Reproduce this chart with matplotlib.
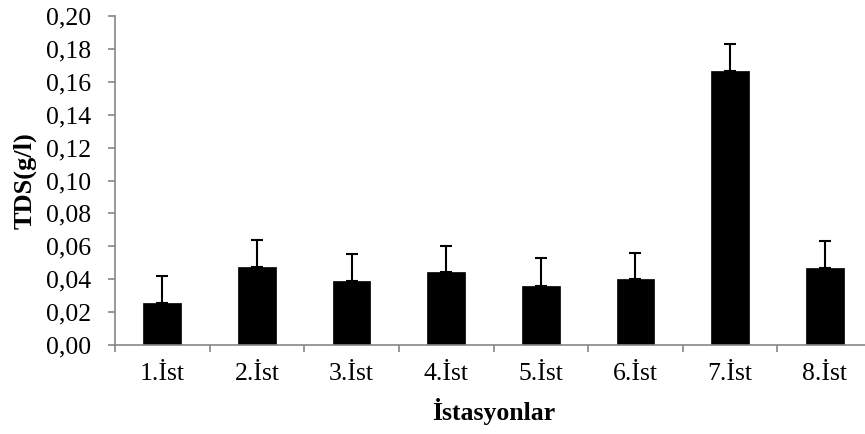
import matplotlib
matplotlib.use("Agg")
import matplotlib.pyplot as plt
import numpy as np

stations = ["1.İst", "2.İst", "3.İst", "4.İst", "5.İst", "6.İst", "7.İst", "8.İst"]
tds = [0.0257, 0.0474, 0.0389, 0.0444, 0.0361, 0.0399, 0.1664, 0.0468]
tds_err = [0.0163, 0.0166, 0.0164, 0.0160, 0.0166, 0.0160, 0.0164, 0.0164]
yticks = [0.00, 0.02, 0.04, 0.06, 0.08, 0.10, 0.12, 0.14, 0.16, 0.18, 0.20]


def main() -> None:
    plt.rcParams["font.family"] = ["Liberation Serif", "DejaVu Serif"]
    grey = "#868686"
    fs = 18.5

    fig = plt.figure(figsize=(8.65, 4.34), dpi=100)
    ax = fig.add_axes([115 / 865, 89 / 434, 757 / 865, 329 / 434])

    x = np.arange(len(stations))
    ax.bar(x, tds, width=0.4, color="black", edgecolor="black", linewidth=0.5, zorder=2)
    ax.errorbar(x, tds, yerr=[np.zeros(len(tds)), tds_err], fmt="none",
                ecolor="black", elinewidth=1.5, capsize=4, capthick=1.5, zorder=3)

    ax.set_xlim(-0.5, len(stations) - 0.5)
    ax.set_ylim(0, 0.20)
    ax.set_yticks(yticks)
    ax.set_yticklabels([f"{v:.2f}".replace(".", ",") for v in yticks], fontsize=fs)

    ax.set_xticks(x)
    ax.set_xticklabels(stations, fontsize=fs)
    ax.set_xticks(np.arange(len(stations) + 1) - 0.5, minor=True)
    ax.tick_params(axis="x", which="major", length=0, pad=13)
    ax.tick_params(axis="x", which="minor", length=5, width=1.2, color=grey, direction="out")
    ax.tick_params(axis="y", length=5, width=1.2, color=grey, direction="out", pad=12)

    for side in ["top", "right"]:
        ax.spines[side].set_visible(False)
    for side in ["left", "bottom"]:
        ax.spines[side].set_color(grey)
        ax.spines[side].set_linewidth(1.2)

    ax.set_ylabel("TDS(g/l)", fontsize=19, fontweight="bold")
    ax.set_xlabel("İstasyonlar", fontsize=fs, fontweight="bold")
    ax.yaxis.set_label_coords(-(115 - 37) / 757, 0.5)
    ax.xaxis.set_label_coords(0.5, -(398 - 345) / 329)

    fig.savefig("out.png", dpi=100)
    plt.close(fig)


if __name__ == "__main__":
    main()
